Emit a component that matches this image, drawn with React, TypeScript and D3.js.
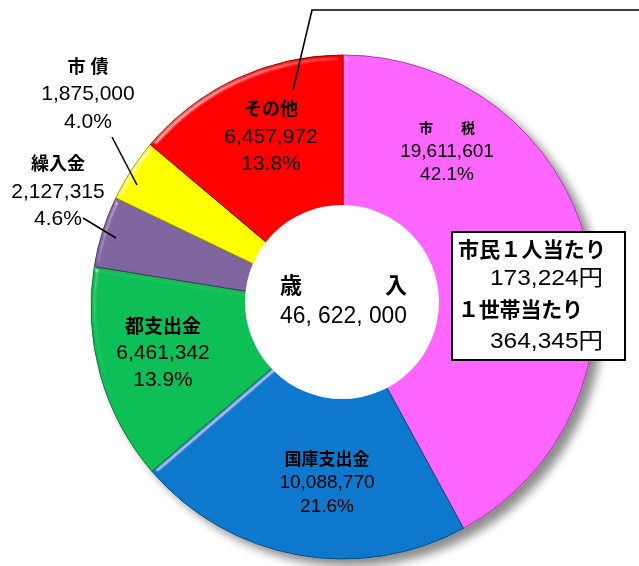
import React, { useEffect, useRef } from 'react';
import * as d3 from 'd3';

// 歳入の内訳 (円)
const categories = ['市税', '国庫支出金', '都支出金', '繰入金', '市債', 'その他'];
const sliceLabels = ['市　　税', '国庫支出金', '都支出金', '繰入金', '市 債', 'その他'];
const values = [19611601, 10088770, 6461342, 2127315, 1875000, 6457972];
const percents = ['42.1%', '21.6%', '13.9%', '4.6%', '4.0%', '13.8%'];
const colors = ['#ff66ff', '#0a78cc', '#0cbf55', '#7f659f', '#ffff00', '#ff0000'];
const edgeColors = ['#a23fa2', '#064c82', '#08713a', '#4b3a60', '#9a9a00', '#900000'];

const totalTitle = '歳　　　入';
const totalValue = '46, 622, 000';
const perCapita = ['市民１人当たり', '173,224円', '１世帯当たり', '364,345円'];

const W = 639;
const H = 566;
const FONT = "'Liberation Sans', 'Noto Sans CJK JP', sans-serif";

// where each label block sits (centre x, baseline of first line, sizes)
const labelLayout = [
  { x: 447, y: 133, dy: [24, 47], ls: 14, vs: 19 },
  { x: 327, y: 465, dy: [23, 47], ls: 17, vs: 19 },
  { x: 163, y: 333, dy: [26, 53], ls: 19, vs: 21 },
  { x: 58, y: 170, dy: [28, 55], ls: 18, vs: 21 },
  { x: 88, y: 73, dy: [27, 55], ls: 18, vs: 21 },
  { x: 271, y: 115, dy: [28, 55], ls: 18, vs: 21 },
];

const App = () => {
  const ref = useRef<SVGSVGElement>(null);

  useEffect(() => {
    const svg = d3.select(ref.current);
    svg.selectAll('*').remove();

    const cx = 343;
    const cy = 307;
    const radius = 252;

    const defs = svg.append('defs');
    const shadow = defs.append('filter').attr('id', 'shadow')
      .attr('x', '-20%').attr('y', '-20%').attr('width', '140%').attr('height', '140%');
    shadow.append('feGaussianBlur').attr('in', 'SourceAlpha').attr('stdDeviation', 5).attr('result', 'b');
    shadow.append('feOffset').attr('in', 'b').attr('dx', 8).attr('dy', 7).attr('result', 'o');
    shadow.append('feComponentTransfer').attr('in', 'o').attr('result', 'o2')
      .append('feFuncA').attr('type', 'linear').attr('slope', 0.45);
    const m = shadow.append('feMerge');
    m.append('feMergeNode').attr('in', 'o2');
    m.append('feMergeNode').attr('in', 'SourceGraphic');

    // soft edge highlight, flat areas stay untouched
    const bevel = defs.append('filter').attr('id', 'bevel');
    bevel.append('feGaussianBlur').attr('in', 'SourceAlpha').attr('stdDeviation', 2.5).attr('result', 'blur');
    bevel.append('feSpecularLighting')
      .attr('in', 'blur').attr('surfaceScale', 5).attr('specularConstant', 0.8)
      .attr('specularExponent', 30).attr('lighting-color', '#ffffff').attr('result', 'spec')
      .append('feDistantLight').attr('azimuth', 225).attr('elevation', 22);
    bevel.append('feComposite').attr('in', 'spec').attr('in2', 'SourceAlpha')
      .attr('operator', 'in').attr('result', 'specOut');
    bevel.append('feComposite').attr('in', 'SourceGraphic').attr('in2', 'specOut')
      .attr('operator', 'arithmetic').attr('k1', 0).attr('k2', 1).attr('k3', 0.5).attr('k4', 0);

    const pie = d3.pie<number>().sort(null).value(d => d);
    const arcs = pie(values);
    const arc = d3.arc<d3.PieArcDatum<number>>().innerRadius(0).outerRadius(radius);

    const g = svg.append('g').attr('transform', `translate(${cx},${cy})`);
    const donut = g.append('g').attr('filter', 'url(#shadow)');
    donut.selectAll('path')
      .data(arcs)
      .enter().append('path')
      .attr('d', arc)
      .attr('fill', (d, i) => colors[i])
      .attr('stroke', (d, i) => edgeColors[i])
      .attr('stroke-width', 1)
      .attr('filter', 'url(#bevel)');

    // centre hole
    svg.append('circle')
      .attr('cx', 342).attr('cy', 302).attr('r', 97)
      .attr('fill', '#fff');

    const fmt = d3.format(',');

    // slice labels
    const lab = svg.append('g').attr('font-family', FONT).attr('text-anchor', 'middle').attr('fill', '#000');
    categories.forEach((c, i) => {
      const p = labelLayout[i];
      lab.append('text').attr('x', p.x).attr('y', p.y)
        .attr('font-size', p.ls).attr('font-weight', 'bold').text(sliceLabels[i]);
      lab.append('text').attr('x', p.x).attr('y', p.y + p.dy[0])
        .attr('font-size', p.vs).text(fmt(values[i]));
      lab.append('text').attr('x', p.x).attr('y', p.y + p.dy[1])
        .attr('font-size', p.vs).text(percents[i]);
    });

    // leader lines
    const line = d3.line();
    const leaders: [number, number][][] = [
      [[112, 137], [137, 185]],
      [[83, 218], [116, 238]],
      [[293, 90], [312, 10], [639, 10]],
    ];
    svg.append('g').selectAll('path').data(leaders).enter().append('path')
      .attr('d', d => line(d))
      .attr('fill', 'none').attr('stroke', '#000').attr('stroke-width', 1.6);

    // total in centre
    svg.append('text').attr('x', 343.5).attr('y', 293).attr('text-anchor', 'middle')
      .attr('font-family', FONT).attr('font-weight', 'bold').attr('font-size', 22)
      .attr('textLength', 127).attr('lengthAdjust', 'spacing')
      .text(totalTitle);
    svg.append('text').attr('x', 343.5).attr('y', 323).attr('text-anchor', 'middle')
      .attr('font-family', FONT).attr('font-size', 24)
      .attr('textLength', 127).attr('lengthAdjust', 'spacingAndGlyphs')
      .text(totalValue);

    // per-capita box
    svg.append('rect').attr('x', 452).attr('y', 232).attr('width', 173).attr('height', 128)
      .attr('fill', '#fff').attr('stroke', '#000').attr('stroke-width', 2);
    const box = svg.append('g').attr('font-family', FONT);
    box.append('text').attr('x', 458).attr('y', 257).attr('font-size', 21).attr('font-weight', 'bold')
      .attr('textLength', 148).text(perCapita[0]);
    box.append('text').attr('x', 490).attr('y', 285).attr('font-size', 22)
      .attr('textLength', 113).attr('lengthAdjust', 'spacingAndGlyphs').text(perCapita[1]);
    box.append('text').attr('x', 458).attr('y', 317).attr('font-size', 21).attr('font-weight', 'bold')
      .attr('textLength', 125).text(perCapita[2]);
    box.append('text').attr('x', 490).attr('y', 348).attr('font-size', 22)
      .attr('textLength', 113).attr('lengthAdjust', 'spacingAndGlyphs').text(perCapita[3]);
  }, []);

  return (
    <svg ref={ref} width={W} height={H}
      style={{ position: 'absolute', left: 0, top: 0, background: '#fff' }} />
  );
};

export default App;
